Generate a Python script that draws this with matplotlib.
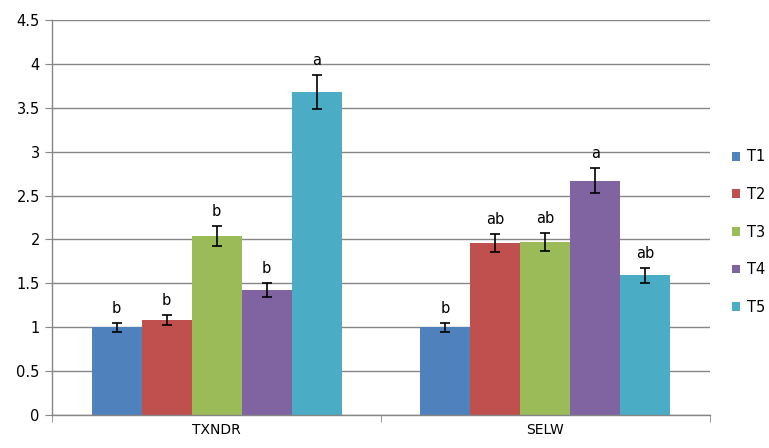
import matplotlib.pyplot as plt
import numpy as np

# data
groups = ["TXNDR", "SELW"]
series = ["T1", "T2", "T3", "T4", "T5"]
colors = ["#4F81BD", "#C0504D", "#9BBB59", "#8064A2", "#4BACC6"]

values = {
    "TXNDR": [1.00, 1.08, 2.04, 1.42, 3.68],
    "SELW": [1.00, 1.96, 1.97, 2.67, 1.59],
}
errors = {
    "TXNDR": [0.05, 0.06, 0.11, 0.08, 0.19],
    "SELW": [0.05, 0.10, 0.10, 0.14, 0.085],
}
letters = {
    "TXNDR": ["b", "b", "b", "b", "a"],
    "SELW": ["b", "ab", "ab", "a", "ab"],
}

plt.rcParams['font.family'] = ['DejaVu Sans']

fig = plt.figure(figsize=(7.69, 4.48), dpi=100)
ax = fig.add_axes([0.068, 0.074, 0.855, 0.881])

bar_w = 0.152
x = np.arange(len(groups))
for i, s in enumerate(series):
    ys = [values[g][i] for g in groups]
    es = [errors[g][i] for g in groups]
    pos = x + (i - 2) * bar_w
    ax.bar(pos, ys, width=bar_w, color=colors[i], label=s, zorder=2)
    ax.errorbar(pos, ys, yerr=es, fmt='none', ecolor='black', elinewidth=1.2,
                capsize=3.5, capthick=1.2, zorder=3)
    for p, y, e, g in zip(pos, ys, es, groups):
        ax.annotate(letters[g][i], (p, y + e), xytext=(0, 5), textcoords='offset points',
                    ha='center', va='bottom', fontsize=10.5)

ax.set_ylim(0, 4.5)
ax.set_yticks(np.arange(0, 4.51, 0.5))
ax.set_yticklabels(["0", "0.5", "1", "1.5", "2", "2.5", "3", "3.5", "4", "4.5"])
ax.set_xlim(-0.5, 1.5)
ax.set_xticks(x)
ax.set_xticklabels(groups)
ax.set_xticks([-0.5, 0.5, 1.5], minor=True)
ax.tick_params(axis='x', which='major', length=0, labelsize=10, pad=6)
ax.tick_params(axis='x', which='minor', length=5, color='#868686')
ax.tick_params(axis='y', length=5, color='#868686', labelsize=10.5, pad=4)

ax.yaxis.grid(True, color='#868686', linewidth=1)
ax.set_axisbelow(True)
for side in ['top', 'right']:
    ax.spines[side].set_visible(False)
for side in ['left', 'bottom']:
    ax.spines[side].set_color('#868686')
    ax.spines[side].set_linewidth(1)

ax.legend(loc='center left', bbox_to_anchor=(1.014, 0.463), frameon=False,
          fontsize=10.5, handlelength=0.55, handleheight=0.55, labelspacing=1.55,
          handletextpad=0.45, borderaxespad=0.5)

fig.savefig("out.png", dpi=100)
